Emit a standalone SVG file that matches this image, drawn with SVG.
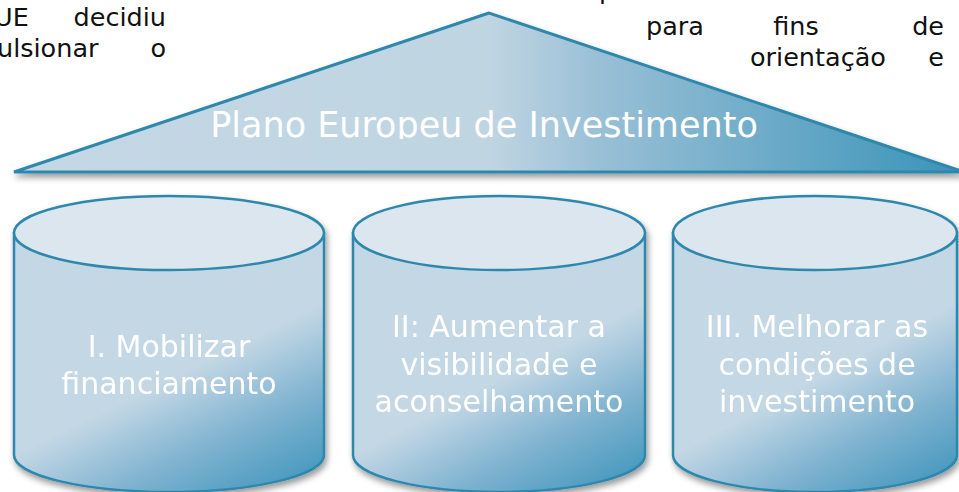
<svg xmlns="http://www.w3.org/2000/svg" width="959" height="492" viewBox="0 0 959 492">
  <defs>
    <linearGradient id="gTri" x1="0" y1="0" x2="1" y2="0">
      <stop offset="0" stop-color="#c3d7e4"/>
      <stop offset="0.5" stop-color="#c0d5e2"/>
      <stop offset="0.62" stop-color="#98bfd6"/>
      <stop offset="1" stop-color="#3a93b8"/>
    </linearGradient>
    <linearGradient id="gCyl" x1="0.68" y1="0.46" x2="1" y2="1">
      <stop offset="0" stop-color="#c3d7e4"/>
      <stop offset="0.12" stop-color="#b2cee0"/>
      <stop offset="0.45" stop-color="#80b3d0"/>
      <stop offset="1" stop-color="#3892ba"/>
    </linearGradient>
    <filter id="shadow" x="-10%" y="-10%" width="130%" height="140%">
      <feDropShadow dx="2" dy="4" stdDeviation="3" flood-color="#000" flood-opacity="0.4"/>
    </filter>
    <clipPath id="clipTitle">
      <rect x="0" y="0" width="959" height="139"/>
    </clipPath>
    <style>
      .body { font-family: "DejaVu Sans", "Liberation Sans", sans-serif; font-size: 25.5px; fill: #111; }
      .lbl { font-family: "DejaVu Sans", "Liberation Sans", sans-serif; font-size: 30px; fill: #ffffff; text-anchor: middle; }
      .title { font-family: "DejaVu Sans", "Liberation Sans", sans-serif; font-size: 35px; fill: #ffffff; text-anchor: middle; }
      .side { fill: url(#gCyl); stroke: #2e88ad; stroke-width: 2.5; }
      .top { fill: #dce6ee; stroke: #2e88ad; stroke-width: 2.5; }
    </style>
  </defs>

  <!-- background paragraph fragments -->
  <g id="text-left">
    <text class="body" x="-6" y="26">UE</text>
    <text class="body" x="166" y="26" text-anchor="end">decidiu</text>
    <text class="body" x="-3" y="57">ulsionar</text>
    <text class="body" x="166" y="57" text-anchor="end">o</text>
  </g>
  <g id="text-right">
    <text class="body" x="599" y="-1">p</text>
    <text class="body" x="646" y="35">para</text>
    <text class="body" x="796" y="35" text-anchor="middle">fins</text>
    <text class="body" x="944" y="35" text-anchor="end">de</text>
    <text class="body" x="750" y="66">orientação</text>
    <text class="body" x="944" y="66" text-anchor="end">e</text>
  </g>

  <g id="roof">
    <polygon points="489,13 14,172 964,172" fill="url(#gTri)" stroke="#2e88ad" stroke-width="3" stroke-linejoin="miter" filter="url(#shadow)"/>
    <text class="title" x="484" y="137" clip-path="url(#clipTitle)">Plano Europeu de Investimento</text>
  </g>

  <g id="pillar1" filter="url(#shadow)">
    <path class="side" d="M14,233 L14,455 A155,37 0 0 0 324,455 L324,233 Z"/>
    <ellipse class="top" cx="169" cy="233" rx="155" ry="37"/>
    <text class="lbl" x="169" y="357">I. Mobilizar</text>
    <text class="lbl" x="169" y="394">financiamento</text>
  </g>

  <g id="pillar2" filter="url(#shadow)">
    <path class="side" d="M353,233 L353,455 A146,37 0 0 0 645,455 L645,233 Z"/>
    <ellipse class="top" cx="499" cy="233" rx="146" ry="37"/>
    <text class="lbl" x="499" y="337">II: Aumentar a</text>
    <text class="lbl" x="499" y="375">visibilidade e</text>
    <text class="lbl" x="499" y="412">aconselhamento</text>
  </g>

  <g id="pillar3" filter="url(#shadow)">
    <path class="side" d="M673,233 L673,455 A142,37 0 0 0 957,455 L957,233 Z"/>
    <ellipse class="top" cx="815" cy="233" rx="142" ry="37"/>
    <text class="lbl" x="817" y="337">III. Melhorar as</text>
    <text class="lbl" x="817" y="375">condições de</text>
    <text class="lbl" x="817" y="412">investimento</text>
  </g>

  <g id="connectors"></g>
</svg>
